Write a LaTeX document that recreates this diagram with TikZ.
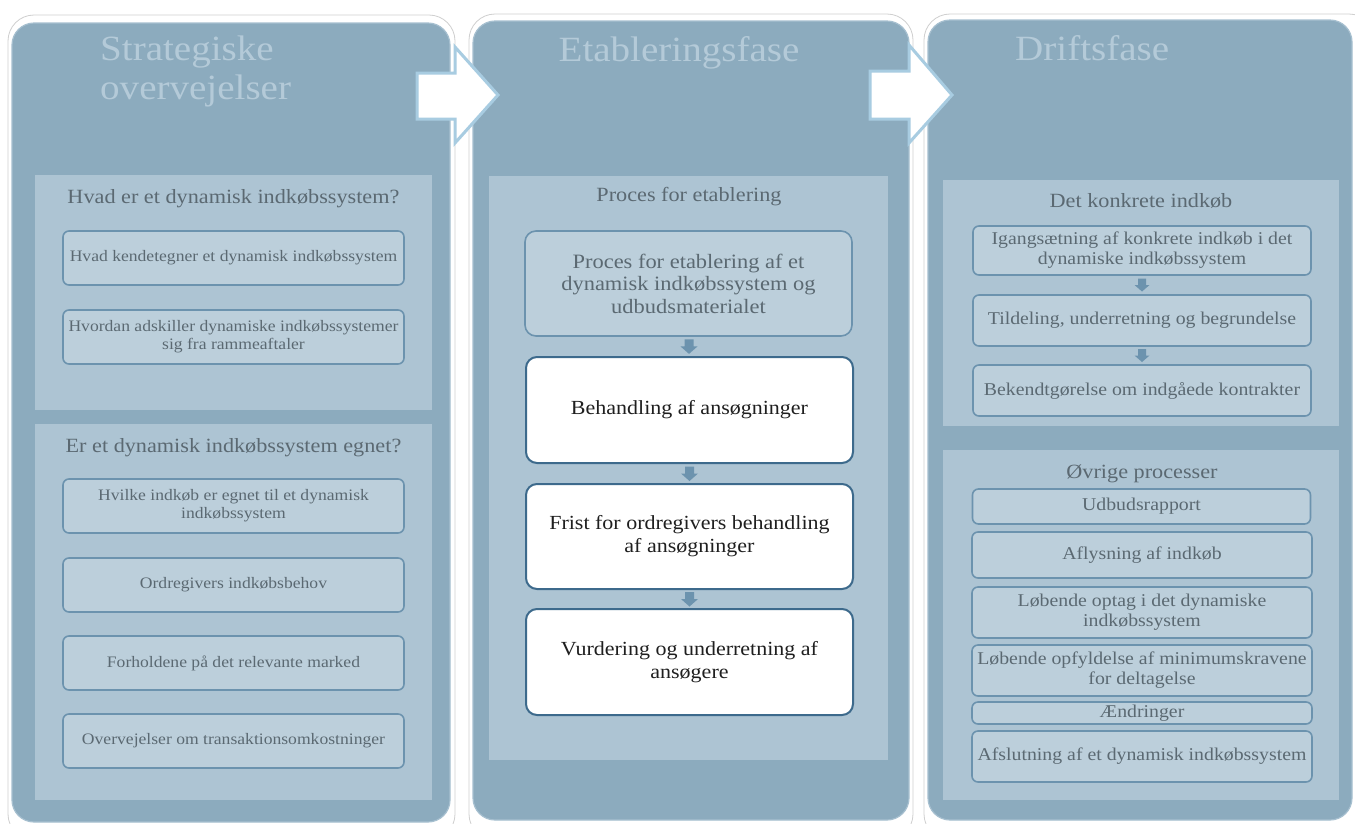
\documentclass[tikz,border=0pt]{standalone}
\usepackage{fontspec}
\setmainfont{Liberation Serif}[FakeStretch=1.1]
\usetikzlibrary{calc}
\definecolor{panelblue}{HTML}{8CABBE}
\definecolor{paneledge}{HTML}{A7C0D0}
\definecolor{secfill}{HTML}{ADC4D3}
\definecolor{boxfill}{HTML}{BCCFDB}
\definecolor{boxborder}{HTML}{6C93AE}
\definecolor{wborder}{HTML}{3D6A8C}
\definecolor{txtgray}{HTML}{5B6972}
\definecolor{titlecol}{HTML}{B4CAD8}
\definecolor{arrowedge}{HTML}{A8CCE1}
\definecolor{frameline}{HTML}{CFCFCF}
\begin{document}
\begin{tikzpicture}[x=1pt,y=-1pt,
  frame/.style={fill=white, draw=frameline, line width=0.8pt, rounded corners=26pt},
  panel/.style={fill=panelblue, draw=paneledge, line width=1.2pt, rounded corners=22pt},
  section/.style={fill=secfill},
  bigtitle/.style={text=titlecol, inner sep=0pt, align=left, font=\fontsize{35.5}{39}\selectfont},
  sectitle/.style={text=txtgray, inner sep=0pt, font=\fontsize{20.2}{23}\selectfont},
  lbox/.style={draw=boxborder, line width=1.6pt, fill=boxfill, rounded corners=6pt, inner sep=0pt, align=center, text=txtgray, font=\fontsize{16}{18}\selectfont},
  dbox/.style={lbox, font=\fontsize{18}{20}\selectfont},
  ebox/.style={lbox, rounded corners=11pt, font=\fontsize{20.4}{22.5}\selectfont},
  wbox/.style={draw=wborder, line width=2pt, fill=white, rounded corners=11pt, inner sep=0pt, align=center, text=black!88, font=\fontsize{20}{23}\selectfont},
  dnarr/.pic={\fill[boxborder] (-4.5,-7) -- (4.5,-7) -- (4.5,0) -- (8.5,0) -- (0,7.5) -- (-8.5,0) -- (-4.5,0) -- cycle;},
  sdnarr/.pic={\fill[boxborder] (-4,-6.5) -- (4,-6.5) -- (4,0) -- (7.5,0) -- (0,6.5) -- (-7.5,0) -- (-4,0) -- cycle;},
  bigarrow/.style={fill=white, draw=arrowedge, line width=3pt, line join=miter}
]
\useasboundingbox (0,0) rectangle (1355,823);
\fill[white] (0,0) rectangle (1355,823);

% panels
\draw[frame] (8,15) rectangle (455,840);
\draw[panel] (12,23) rectangle (450,822);
\draw[frame] (469,14) rectangle (913,840);
\draw[panel] (473,21) rectangle (909,820);
\draw[frame] (924,14) rectangle (1375,840);
\draw[panel] (928,20) rectangle (1352,820);

% titles
\node[bigtitle, anchor=base west] (title1) at (100,99) {Strategiske\\overvejelser};
\node[bigtitle, anchor=base] (title2) at (679,61) {Etableringsfase};
\node[bigtitle, anchor=base west] (title3) at (1015,60) {Driftsfase};

% sections
\fill[section] (35,175) rectangle (432,410);
\fill[section] (35,424) rectangle (432,800);
\fill[section] (489,176) rectangle (888,760);
\fill[section] (943,180) rectangle (1339,426);
\fill[section] (943,450) rectangle (1339,800);

% panel 1
\node[sectitle, anchor=base] (s1a) at (233.5,203) {Hvad er et dynamisk indkøbssystem?};
\node[lbox, minimum width=341pt, minimum height=54pt] (p1a) at (233.5,258) {Hvad kendetegner et dynamisk indkøbssystem};
\node[lbox, minimum width=341pt, minimum height=54pt] (p1b) at (233.5,337) {Hvordan adskiller dynamiske indkøbssystemer\\sig fra rammeaftaler};
\node[sectitle, anchor=base] (s1b) at (233.5,452) {Er et dynamisk indkøbssystem egnet?};
\node[lbox, minimum width=341pt, minimum height=54pt] (p1c) at (233.5,506) {Hvilke indkøb er egnet til et dynamisk\\indkøbssystem};
\node[lbox, minimum width=341pt, minimum height=54pt] (p1d) at (233.5,585) {Ordregivers indkøbsbehov};
\node[lbox, minimum width=341pt, minimum height=54pt] (p1e) at (233.5,663) {Forholdene på det relevante marked};
\node[lbox, minimum width=341pt, minimum height=54pt] (p1f) at (233.5,741) {Overvejelser om transaktionsomkostninger};

% panel 2
\node[sectitle, anchor=base] (s2) at (689,201) {Proces for etablering};
\node[ebox, minimum width=327pt, minimum height=105pt] (e1) at (688.5,283.5) {Proces for etablering af et\\dynamisk indkøbssystem og\\udbudsmaterialet};
\node[wbox, minimum width=327pt, minimum height=106pt] (e2) at (689.5,410) {Behandling af ansøgninger};
\node[wbox, minimum width=327pt, minimum height=105pt] (e3) at (689.5,536.5) {Frist for ordregivers behandling\\af ansøgninger};
\node[wbox, minimum width=327pt, minimum height=106pt] (e4) at (689.5,662) {Vurdering og underretning af\\ansøgere};
\path (e1.south) -- coordinate (a12) (e2.north);
\path (e2.south) -- coordinate (a23) (e3.north);
\path (e3.south) -- coordinate (a34) (e4.north);
\pic at (a12) {dnarr};
\pic at (a23) {dnarr};
\pic at (a34) {dnarr};

% panel 3
\node[sectitle, anchor=base] (s3a) at (1141,207) {Det konkrete indkøb};
\node[dbox, minimum width=338pt, minimum height=49pt] (d1) at (1142,250.5) {Igangsætning af konkrete indkøb i det\\dynamiske indkøbssystem};
\node[dbox, minimum width=338pt, minimum height=51pt] (d2) at (1142,320.5) {Tildeling, underretning og begrundelse};
\node[dbox, minimum width=338pt, minimum height=51pt] (d3) at (1142,390.5) {Bekendtgørelse om indgåede kontrakter};
\path (d1.south) -- coordinate (b12) (d2.north);
\path (d2.south) -- coordinate (b23) (d3.north);
\pic at (b12) {sdnarr};
\pic at (b23) {sdnarr};

\node[sectitle, anchor=base] (s3b) at (1142,478) {Øvrige processer};
\node[dbox, minimum width=338pt, minimum height=35pt] (o1) at (1141.5,506.5) {Udbudsrapport};
\node[dbox, minimum width=340pt, minimum height=46pt] (o2) at (1142,555) {Aflysning af indkøb};
\node[dbox, minimum width=340pt, minimum height=51pt] (o3) at (1142,612.5) {Løbende optag i det dynamiske\\indkøbssystem};
\node[dbox, minimum width=340pt, minimum height=51pt] (o4) at (1142,670.5) {Løbende opfyldelse af minimumskravene\\for deltagelse};
\node[dbox, minimum width=340pt, minimum height=22pt] (o5) at (1142,713) {Ændringer};
\node[dbox, minimum width=340pt, minimum height=51pt] (o6) at (1142,756.5) {Afslutning af et dynamisk indkøbssystem};

% big arrows
\draw[bigarrow] (417,73) -- (455,73) -- (455,47) -- (498,95) -- (455,143) -- (455,119) -- (417,119) -- cycle;
\draw[bigarrow] (870,71) -- (909,71) -- (909,45) -- (952,95) -- (909,143) -- (909,119) -- (870,119) -- cycle;
\end{tikzpicture}
\end{document}
